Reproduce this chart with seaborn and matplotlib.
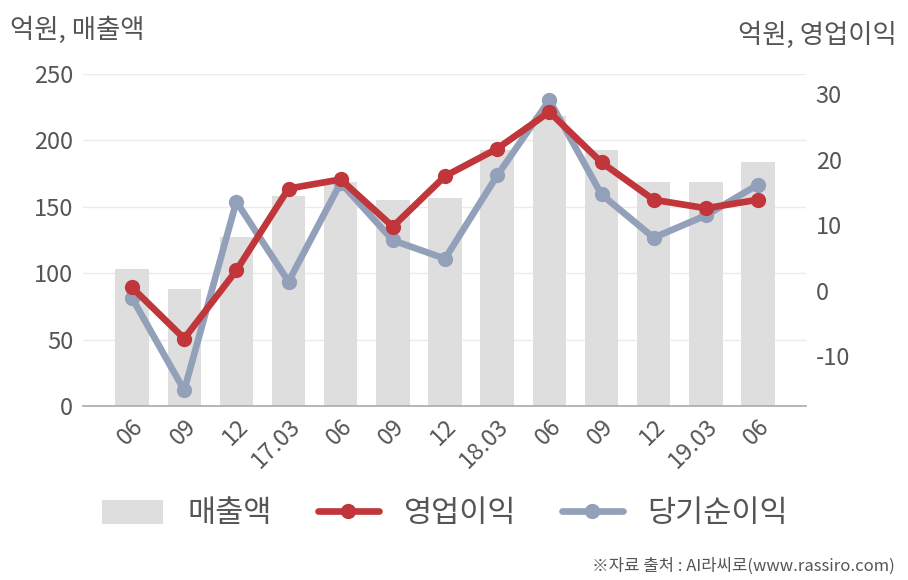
import matplotlib
matplotlib.use("Agg")
import matplotlib.pyplot as plt
import seaborn as sns
import numpy as np
import pandas as pd
from matplotlib.patches import Patch
from matplotlib.lines import Line2D

labels = ["06", "09", "12", "17.03", "06", "09", "12", "18.03", "06", "09", "12", "19.03", "06"]
sales = [103, 88, 127, 158, 169, 155, 157, 193, 218, 193, 169, 169, 184]
op_profit = [0.5, -7.3, 3.1, 15.6, 17.0, 9.8, 17.5, 21.7, 27.3, 19.6, 13.9, 12.6, 13.9]
net_income = [-1.1, -15.2, 13.6, 1.4, 16.5, 7.7, 4.9, 17.6, 29.1, 14.7, 8.1, 11.5, 16.2]

sns.set_theme(style="white")
plt.rcParams['font.family'] = ['Noto Sans CJK KR', 'DejaVu Sans']
plt.rcParams['axes.unicode_minus'] = False

TXT = "#555555"
BAR = "#DEDEDE"
RED = "#C0363A"
BLUE = "#92A0BA"

df = pd.DataFrame({"idx": np.arange(len(labels)), "sales": sales,
                   "op": op_profit, "net": net_income})

fig = plt.figure(figsize=(9.08, 5.8), dpi=100)
ax = fig.add_axes([83/908, 1 - 406/580, (806-83)/908, (406-74)/580])

sns.barplot(data=df, x="idx", y="sales", color=BAR, width=0.64, ax=ax,
            saturation=1, edgecolor="none")
ax.set_xlim(-0.94, 12.92)
ax.set_ylim(0, 250)
ax.set_yticks([0, 50, 100, 150, 200, 250])
ax.grid(axis="y", color="#EBEBEB", linewidth=1)
ax.set_axisbelow(True)
for s in ["top", "right", "left"]:
    ax.spines[s].set_visible(False)
ax.spines["bottom"].set_color("#AAAAAA")
ax.spines["bottom"].set_linewidth(1.2)
ax.set_xlabel("")
ax.set_ylabel("")
ax.tick_params(axis="both", length=0, labelsize=17, colors=TXT)
ax.tick_params(axis="y", pad=7)
ax.set_xticks(range(len(labels)))
ax.set_xticklabels(labels, rotation=45, ha="right", rotation_mode="anchor", fontsize=17, color=TXT)
for t in ax.get_xticklabels():
    t.set_y(-0.012)

ax2 = ax.twinx()
sns.lineplot(data=df, x="idx", y="net", color=BLUE, linewidth=4.8, marker="o",
             markersize=11, markeredgewidth=0, ax=ax2)
sns.lineplot(data=df, x="idx", y="op", color=RED, linewidth=4.8, marker="o",
             markersize=11, markeredgewidth=0, ax=ax2)
ax2.set_ylim(-17.6, 33.1)
ax2.set_yticks([-10, 0, 10, 20, 30])
ax2.set_xlim(-0.94, 12.92)
for s in ["top", "right", "left", "bottom"]:
    ax2.spines[s].set_visible(False)
ax2.set_xlabel("")
ax2.set_ylabel("")
ax2.grid(False)
ax2.tick_params(axis="y", length=0, labelsize=17, colors=TXT, pad=7)

fig.text(10/908, 1 - 30/580, "억원, 매출액", fontsize=19, color=TXT, va="center", ha="left")
fig.text(897/908, 1 - 35/580, "억원, 영업이익", fontsize=19, color=TXT, va="center", ha="right")

handles = [Patch(facecolor=BAR, edgecolor="none"),
           Line2D([0], [0], color=RED, lw=4.8, marker="o", markersize=11, markeredgewidth=0),
           Line2D([0], [0], color=BLUE, lw=4.8, marker="o", markersize=11, markeredgewidth=0)]
fig.legend(handles, ["매출액", "영업이익", "당기순이익"], loc="center",
           bbox_to_anchor=(445/908, 1 - 514/580), ncol=3, frameon=False,
           fontsize=22, labelcolor=TXT, handlelength=2.0, handleheight=0.8,
           columnspacing=1.5, handletextpad=0.8)

fig.text(895/908, 1 - 566/580, "※자료 출처 : AI라씨로(www.rassiro.com)", fontsize=12,
         color=TXT, ha="right", va="center")

fig.savefig("out.png", dpi=100)
